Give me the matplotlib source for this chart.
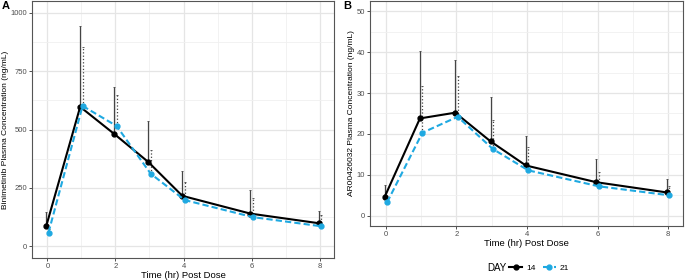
import numpy as np
import matplotlib.pyplot as plt
from matplotlib.lines import Line2D

plt.rcParams['font.family'] = ['Liberation Sans', 'DejaVu Sans']

time_hr = [0, 1, 2, 3, 4, 6, 8]

# Panel A: Binimetinib
bini_d14 = [85, 597, 481, 361, 216, 140, 99]
bini_d14_upper = [148, 943, 682, 537, 321, 240, 150]
bini_d21 = [59, 601, 515, 311, 198, 125, 86]
bini_d21_upper = [72, 851, 648, 413, 276, 205, 134]

# Panel B: AR00426032
ar_d14 = [4.6, 23.8, 25.2, 18.2, 12.3, 8.2, 5.7]
ar_d14_upper = [7.4, 40.2, 38.1, 29.0, 19.6, 13.8, 9.0]
ar_d21 = [3.3, 20.3, 24.2, 16.3, 11.1, 7.2, 5.0]
ar_d21_upper = [4.0, 31.8, 34.2, 23.4, 16.9, 10.8, 7.3]

days = ['14', '21']
colors = {'14': 'black', '21': '#1FA9E1'}

fig = plt.figure(figsize=(6.85, 2.8), dpi=100)
axA = fig.add_axes([32/685, 22/280, 302/685, 257/280])
axB = fig.add_axes([370/685, 54/280, 313/685, 225/280])


def draw_panel(ax, d14, d14_up, d21, d21_up, ylim, yticks, ylabel):
    t = np.array(time_hr, dtype=float)
    dodge = 0.035
    series = [(t - dodge, d14, d14_up, '14', '-', '-'),
              (t + dodge, d21, d21_up, '21', '--', ':')]
    for x, m, up, day, ls, els in series:
        m = np.array(m)
        up = np.array(up)
        eb = ax.errorbar(x, m, yerr=[np.zeros_like(m), up - m], fmt='none',
                         ecolor='#444444', elinewidth=0.9, capsize=1, capthick=0.6,
                         zorder=2)
        for bl in eb[2]:
            bl.set_linestyle(els)
        ax.plot(x, m, color=colors[day], linestyle=ls, linewidth=1.5,
                marker='o', markersize=3.5, zorder=3,
                dashes=(3, 1.5) if ls == '--' else (None, None))
    ax.set_xlim(-0.45, 8.42)
    ax.set_ylim(*ylim)
    ax.set_xticks([0, 2, 4, 6, 8])
    ax.set_yticks(yticks)
    ax.set_xticks([1, 3, 5, 7], minor=True)
    ystep = yticks[1] - yticks[0]
    ax.set_yticks([v + ystep / 2 for v in yticks[:-1]], minor=True)
    ax.grid(True, which='major', color='#E5E5E5', linewidth=0.9)
    ax.grid(True, which='minor', color='#F0F0F0', linewidth=0.6)
    ax.set_axisbelow(True)
    ax.tick_params(which='major', labelsize=5.5, colors='#333333', length=2.5, width=0.6,
                   labelcolor='#4D4D4D', pad=1.2)
    ax.tick_params(which='minor', length=0)
    for s in ax.spines.values():
        s.set_color('#555555')
        s.set_linewidth(0.8)
    ax.set_xlabel('Time (hr) Post Dose', fontsize=6.8, labelpad=0.8)
    ax.set_ylabel(ylabel, fontsize=6, labelpad=1)


draw_panel(axA, bini_d14, bini_d14_upper, bini_d21, bini_d21_upper,
           (-50, 1050), [0, 250, 500, 750, 1000],
           'Binimetinib Plasma Concentration (ng/mL)')
draw_panel(axB, ar_d14, ar_d14_upper, ar_d21, ar_d21_upper,
           (-2.5, 52.5), [0, 10, 20, 30, 40, 50],
           'AR00426032 Plasma Concentration (ng/mL)')

fig.text(2/685, 1 - 6/280, 'A', fontsize=8, fontweight='bold', va='center')
fig.text(343/685, 1 - 6/280, 'B', fontsize=8, fontweight='bold', va='center')

handles = [Line2D([], [], color=colors[d], linestyle='-' if d == '14' else '--',
                  linewidth=1.5, marker='o', markersize=3.5) for d in days]
fig.text(487/685, 1 - 268/280, 'DAY', fontsize=7, va='center')
fig.legend(handles, days, loc='center left', bbox_to_anchor=(509/685, 1 - 268/280),
           ncol=2, frameon=False, fontsize=6, handlelength=1.6, handletextpad=0.5,
           columnspacing=0.8, borderpad=0, borderaxespad=0)

fig.savefig('out.png', dpi=100)
